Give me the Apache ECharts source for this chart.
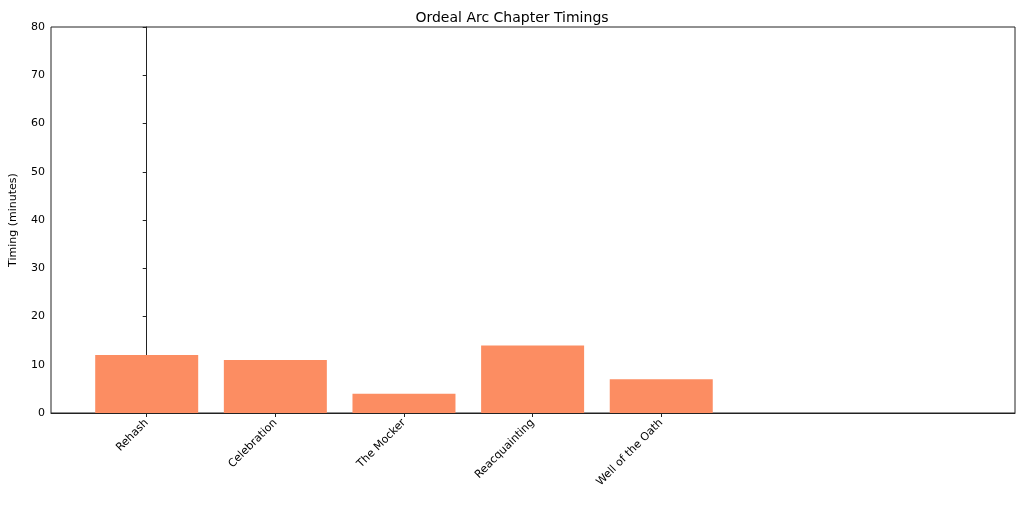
<!DOCTYPE html>
<html><head><meta charset="utf-8">
<script src="https://cdn.jsdelivr.net/npm/echarts@6/dist/echarts.min.js"></script>
<style>body{margin:0}#c{width:1024px;height:507px}</style></head>
<body><div id="c"></div>
<script>
const categories = ["Rehash","Celebration","The Mocker","Reacquainting","Well of the Oath"];
const timings = [12, 11, 4, 14, 7];
const yTicks = [0,10,20,30,40,50,60,70,80];
const idx = categories.map((_, i) => i);
const chart = echarts.init(document.getElementById('c'));
chart.setOption({
  animation: false,
  title: {text: 'Ordeal Arc Chapter Timings', left: 'center', top: 6,
    textStyle: {fontFamily: 'DejaVu Sans', fontSize: 14, fontWeight: 'normal', color: '#000'}},
  grid: {left: 48, right: 9, top: 27, bottom: 94, show: true, borderColor: '#222', borderWidth: 1},
  xAxis: {type: 'value', min: -0.744, max: 6.75, splitLine: {show: false},
    axisLine: {show: true, lineStyle: {color: '#222'}},
    axisTick: {show: true, customValues: idx, length: 4, lineStyle: {color: '#222'}},
    axisLabel: {customValues: idx, formatter: v => categories[Math.round(v)], rotate: 45,
      fontFamily: 'DejaVu Sans', fontSize: 11, color: '#000', margin: 8}},
  yAxis: {type: 'value', min: 0, max: 80, interval: 10, splitLine: {show: false},
    name: 'Timing (minutes)', nameLocation: 'middle', nameGap: 32,
    nameTextStyle: {fontFamily: 'DejaVu Sans', fontSize: 11, color: '#000'},
    axisLine: {show: true, lineStyle: {color: '#222'}},
    axisTick: {show: true, length: 4, lineStyle: {color: '#222'}},
    axisLabel: {fontFamily: 'DejaVu Sans', fontSize: 11, color: '#000', margin: 6}},
  series: [{type: 'bar', data: timings.map((v, i) => [i, v]), barWidth: 103,
    itemStyle: {color: '#FC8D62'}}]
});
</script></body></html>
